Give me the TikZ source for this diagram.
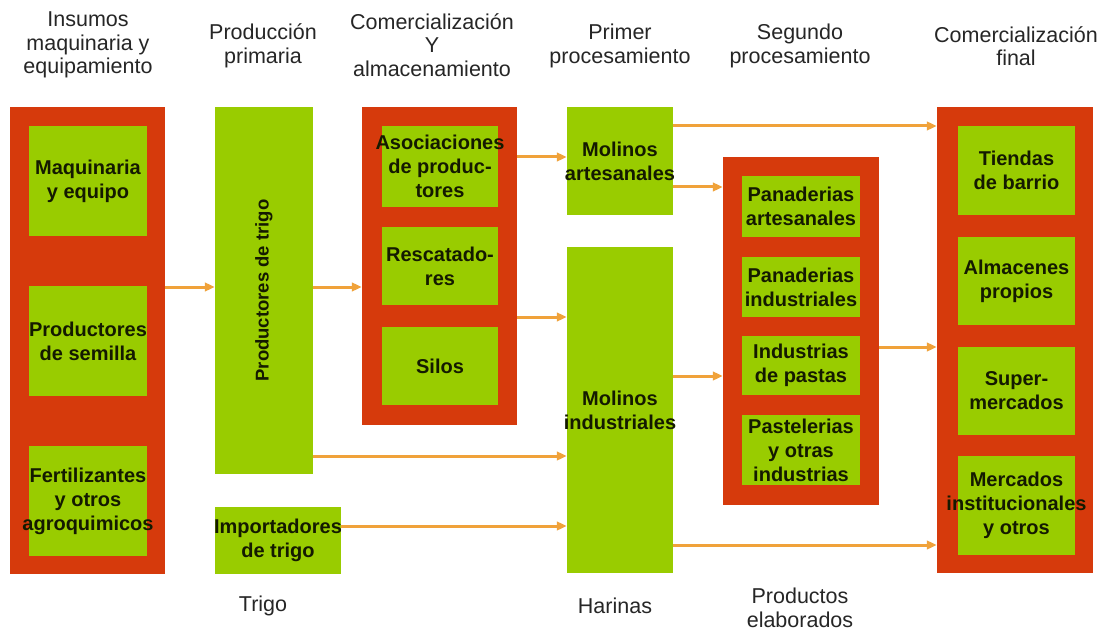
\documentclass[tikz,border=0pt]{standalone}
\usepackage{fontspec}
\setmainfont{Liberation Sans}
\usetikzlibrary{arrows.meta}
\definecolor{boxred}{HTML}{D63A0C}
\definecolor{boxgreen}{HTML}{99CC00}
\definecolor{arrowor}{HTML}{F0A23A}
\definecolor{headgray}{HTML}{262626}
\definecolor{boxtext}{HTML}{141A00}
\begin{document}
\begin{tikzpicture}[x=1pt,y=-1pt,
  rbox/.style={fill=boxred, draw=none, inner sep=0pt},
  gbox/.style={fill=boxgreen, draw=none, inner sep=0pt},
  btxt/.style={align=center, inner sep=0pt, font=\fontsize{20}{24}\selectfont\bfseries, text=boxtext},
  head/.style={align=center, inner sep=0pt, font=\fontsize{21.5}{23.5}\selectfont, text=headgray},
  flow/.style={draw=arrowor, line width=3pt, -{Triangle[length=10pt,width=8.5pt]}}
]
\useasboundingbox[fill=white] (0,0) rectangle (1105,631);

% headers
\node[head] (h1) at (88,45) {Insumos\\maquinaria y\\equipamiento};
\node[head] (h2) at (263,46) {Producción\\primaria};
\node[head] (h3) at (432,45) {Comercialización\\Y\\almacenamiento};
\node[head] (h4) at (620,46) {Primer\\procesamiento};
\node[head] (h5) at (800,46) {Segundo\\procesamiento};
\node[head] (h6) at (1016,46) {Comercialización\\final};

% bottom labels
\node[head] (b1) at (263,606) {Trigo};
\node[head] (b2) at (615,606) {Harinas};
\node[head] (b3) at (800,608) {Productos\\elaborados};

% column 1
\node[rbox, minimum width=155pt, minimum height=467pt] (c1) at (87.5,340.5) {};
\node[gbox, minimum width=118pt, minimum height=110pt] (c1a) at (88,181) {};
\node[gbox, minimum width=118pt, minimum height=110pt] (c1b) at (88,341) {};
\node[gbox, minimum width=118pt, minimum height=110pt] (c1c) at (88,501) {};
\node[btxt] (c1at) at (c1a) {Maquinaria\\y equipo};
\node[btxt] (c1bt) at (c1b) {Productores\\de semilla};
\node[btxt] (c1ct) at (c1c) {Fertilizantes\\y otros\\agroquimicos};

% column 2
\node[gbox, minimum width=98pt, minimum height=367pt] (pt) at (264,290.5) {};
\node[btxt, rotate=90, font=\fontsize{18.5}{22}\selectfont\bfseries] (ptt) at (pt) {Productores de trigo};
\node[gbox, minimum width=126pt, minimum height=67pt] (imp) at (278,540.5) {};
\node[btxt] (impt) at (imp) {Importadores\\de trigo};

% column 3
\node[rbox, minimum width=155pt, minimum height=318pt] (c3) at (439.5,266) {};
\node[gbox, minimum width=116pt, minimum height=81pt] (c3a) at (440,166.5) {};
\node[gbox, minimum width=116pt, minimum height=78pt] (c3b) at (440,266) {};
\node[gbox, minimum width=116pt, minimum height=78pt] (c3c) at (440,366) {};
\node[btxt] (c3at) at (c3a) {Asociaciones\\de produc-\\tores};
\node[btxt] (c3bt) at (c3b) {Rescatado-\\res};
\node[btxt] (c3ct) at (c3c) {Silos};

% column 4
\node[gbox, minimum width=106pt, minimum height=108pt] (ma) at (620,161) {};
\node[btxt] (mat) at (ma) {Molinos\\artesanales};
\node[gbox, minimum width=106pt, minimum height=326pt] (mi) at (620,410) {};
\node[btxt] (mit) at (mi) {Molinos\\industriales};

% column 5
\node[rbox, minimum width=156pt, minimum height=348pt] (c5) at (801,331) {};
\node[gbox, minimum width=118pt, minimum height=61pt] (c5a) at (801,206.5) {};
\node[gbox, minimum width=118pt, minimum height=60pt] (c5b) at (801,287) {};
\node[gbox, minimum width=118pt, minimum height=59pt] (c5c) at (801,365.5) {};
\node[gbox, minimum width=118pt, minimum height=70pt] (c5d) at (801,450) {};
\node[btxt] (c5at) at (c5a) {Panaderias\\artesanales};
\node[btxt] (c5bt) at (c5b) {Panaderias\\industriales};
\node[btxt] (c5ct) at (c5c) {Industrias\\de pastas};
\node[btxt] (c5dt) at (c5d) {Pastelerias\\y otras\\industrias};

% column 6
\node[rbox, minimum width=156pt, minimum height=466pt] (c6) at (1015,340) {};
\node[gbox, minimum width=117pt, minimum height=89pt] (c6a) at (1016.5,170.5) {};
\node[gbox, minimum width=117pt, minimum height=88pt] (c6b) at (1016.5,281) {};
\node[gbox, minimum width=117pt, minimum height=88pt] (c6c) at (1016.5,391) {};
\node[gbox, minimum width=117pt, minimum height=99pt] (c6d) at (1016.5,505.5) {};
\node[btxt] (c6at) at (c6a) {Tiendas\\de barrio};
\node[btxt] (c6bt) at (c6b) {Almacenes\\propios};
\node[btxt] (c6ct) at (c6c) {Super-\\mercados};
\node[btxt] (c6dt) at (c6d) {Mercados\\institucionales\\y otros};

% arrow levels
\coordinate (y126) at (0,126);
\coordinate (y157) at (0,157);
\coordinate (y187) at (0,187);
\coordinate (y287) at (0,287);
\coordinate (y317) at (0,317);
\coordinate (y347) at (0,347);
\coordinate (y376) at (0,376);
\coordinate (y456) at (0,456);
\coordinate (y526) at (0,526);
\coordinate (y545) at (0,545);

% arrows
\draw[flow] (c1.east |- y287) -- (pt.west |- y287);
\draw[flow] (pt.east |- y287) -- (c3.west |- y287);
\draw[flow] (c3.east |- y157) -- (ma.west |- y157);
\draw[flow] (c3.east |- y317) -- (mi.west |- y317);
\draw[flow] (pt.east |- y456) -- (mi.west |- y456);
\draw[flow] (imp.east |- y526) -- (mi.west |- y526);
\draw[flow] (ma.east |- y126) -- (c6.west |- y126);
\draw[flow] (ma.east |- y187) -- (c5.west |- y187);
\draw[flow] (mi.east |- y376) -- (c5.west |- y376);
\draw[flow] (mi.east |- y545) -- (c6.west |- y545);
\draw[flow] (c5.east |- y347) -- (c6.west |- y347);
\end{tikzpicture}
\end{document}
